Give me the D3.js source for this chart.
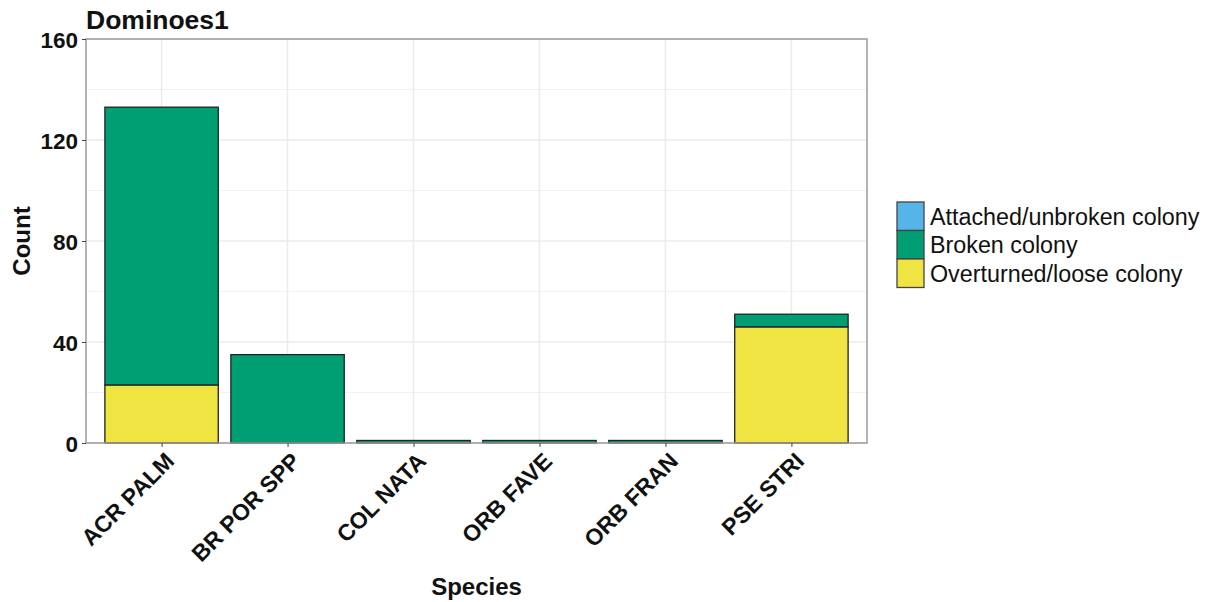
<!DOCTYPE html>
<html><head><meta charset="utf-8">
<script src="https://cdn.jsdelivr.net/npm/d3@7"></script>
<style>body{margin:0;background:#fff}svg{display:block}text{font-family:"Liberation Sans",Arial,sans-serif}</style>
</head><body><svg id="c" width="1208" height="602"></svg>
<script>
const species = ["ACR PALM","BR POR SPP","COL NATA","ORB FAVE","ORB FRAN","PSE STRI"];
const seriesNames = ["Attached/unbroken colony","Broken colony","Overturned/loose colony"];
const attached = [0,0,0,0,0,0];
const broken = [110,35,1,1,1,5];
const overturned = [23,0,0,0,0,46];
const colors = ["#56B4E9","#009E73","#F0E442"];
const yTicks = [0,40,80,120,160];
const yMinor = [20,60,100,140];

const svg = d3.select("#c");
const L=86,R=867,T=39,B=443;
const n = species.length;
const unit = (R-L)/(n-1+1.2);
const x = d3.scalePoint().domain(species).range([L+0.6*unit, R-0.6*unit]);
const bw = 0.9*unit;
const y = d3.scaleLinear().domain([0,160]).range([B,T]);

// grid
const g = svg.append("g");
g.selectAll(".mn").data(yMinor).join("line").attr("x1",L).attr("x2",R).attr("y1",d=>y(d)).attr("y2",d=>y(d)).attr("stroke","#f2f2f2").attr("stroke-width",1);
g.selectAll(".mj").data(yTicks).join("line").attr("x1",L).attr("x2",R).attr("y1",d=>y(d)).attr("y2",d=>y(d)).attr("stroke","#ebebeb").attr("stroke-width",1.5);
g.selectAll(".vx").data(species).join("line").attr("x1",d=>x(d)).attr("x2",d=>x(d)).attr("y1",T).attr("y2",B).attr("stroke","#ebebeb").attr("stroke-width",1.5);

// stacked bars: bottom overturned, then broken, then attached
const rows = species.map((s,i)=>({s, a:attached[i], b:broken[i], o:overturned[i]}));
const stack = d3.stack().keys(["o","b","a"]);
const stacked = stack(rows);
const colorByKey = {a:colors[0], b:colors[1], o:colors[2]};
stacked.forEach(layer=>{
  svg.append("g").selectAll("rect").data(layer.filter(d=>d[1]-d[0]>0)).join("rect")
    .attr("x",d=>x(d.data.s)-bw/2).attr("width",bw)
    .attr("y",d=>y(d[1])).attr("height",d=>y(d[0])-y(d[1]))
    .attr("fill",colorByKey[layer.key]).attr("stroke","#222").attr("stroke-width",1.3);
});

// panel border
svg.append("rect").attr("x",L).attr("y",T).attr("width",R-L).attr("height",B-T).attr("fill","none").attr("stroke","#9a9a9a").attr("stroke-width",1.5);

// y axis
const ya = svg.append("g").attr("transform",`translate(${L},0)`).call(d3.axisLeft(y).tickValues(yTicks).tickSize(4).tickPadding(4));
ya.select(".domain").remove();
ya.selectAll("line").attr("stroke","#444");
ya.selectAll("text").attr("font-size",22.5).attr("font-weight","bold").attr("fill","#111").attr("font-family","Liberation Sans, Arial, sans-serif").attr("dy","0.36em");

// x axis
const xa = svg.append("g").attr("transform",`translate(0,${B})`).call(d3.axisBottom(x).tickSize(4).tickPadding(4));
xa.select(".domain").remove();
xa.selectAll("line").attr("stroke","#444");
xa.selectAll("text").attr("font-size",23).attr("font-weight","bold").attr("fill","#111").attr("font-family","Liberation Sans, Arial, sans-serif")
  .attr("text-anchor","end").attr("y",0).attr("dy","0.71em")
  .attr("transform","translate(2,8) rotate(-45)");

// titles
svg.append("text").attr("x",L).attr("y",29).attr("font-size",26.5).attr("font-weight","bold").attr("fill","#111").text("Dominoes1");
svg.append("text").attr("transform",`translate(30,${(T+B)/2}) rotate(-90)`).attr("text-anchor","middle").attr("font-size",24).attr("font-weight","bold").attr("fill","#111").text("Count");
svg.append("text").attr("x",(L+R)/2).attr("y",595).attr("text-anchor","middle").attr("font-size",24).attr("font-weight","bold").attr("fill","#111").text("Species");

// legend
const lg = svg.append("g").attr("transform","translate(897,202)");
const kh = 28.5;
seriesNames.forEach((nm,i)=>{
  lg.append("rect").attr("x",0).attr("y",i*kh).attr("width",27).attr("height",kh).attr("fill",colors[i]).attr("stroke","#444").attr("stroke-width",1.3);
  lg.append("text").attr("x",33).attr("y",i*kh+kh/2).attr("dy","0.36em").attr("font-size",23.3).attr("fill","#111").text(nm);
});
</script></body></html>
